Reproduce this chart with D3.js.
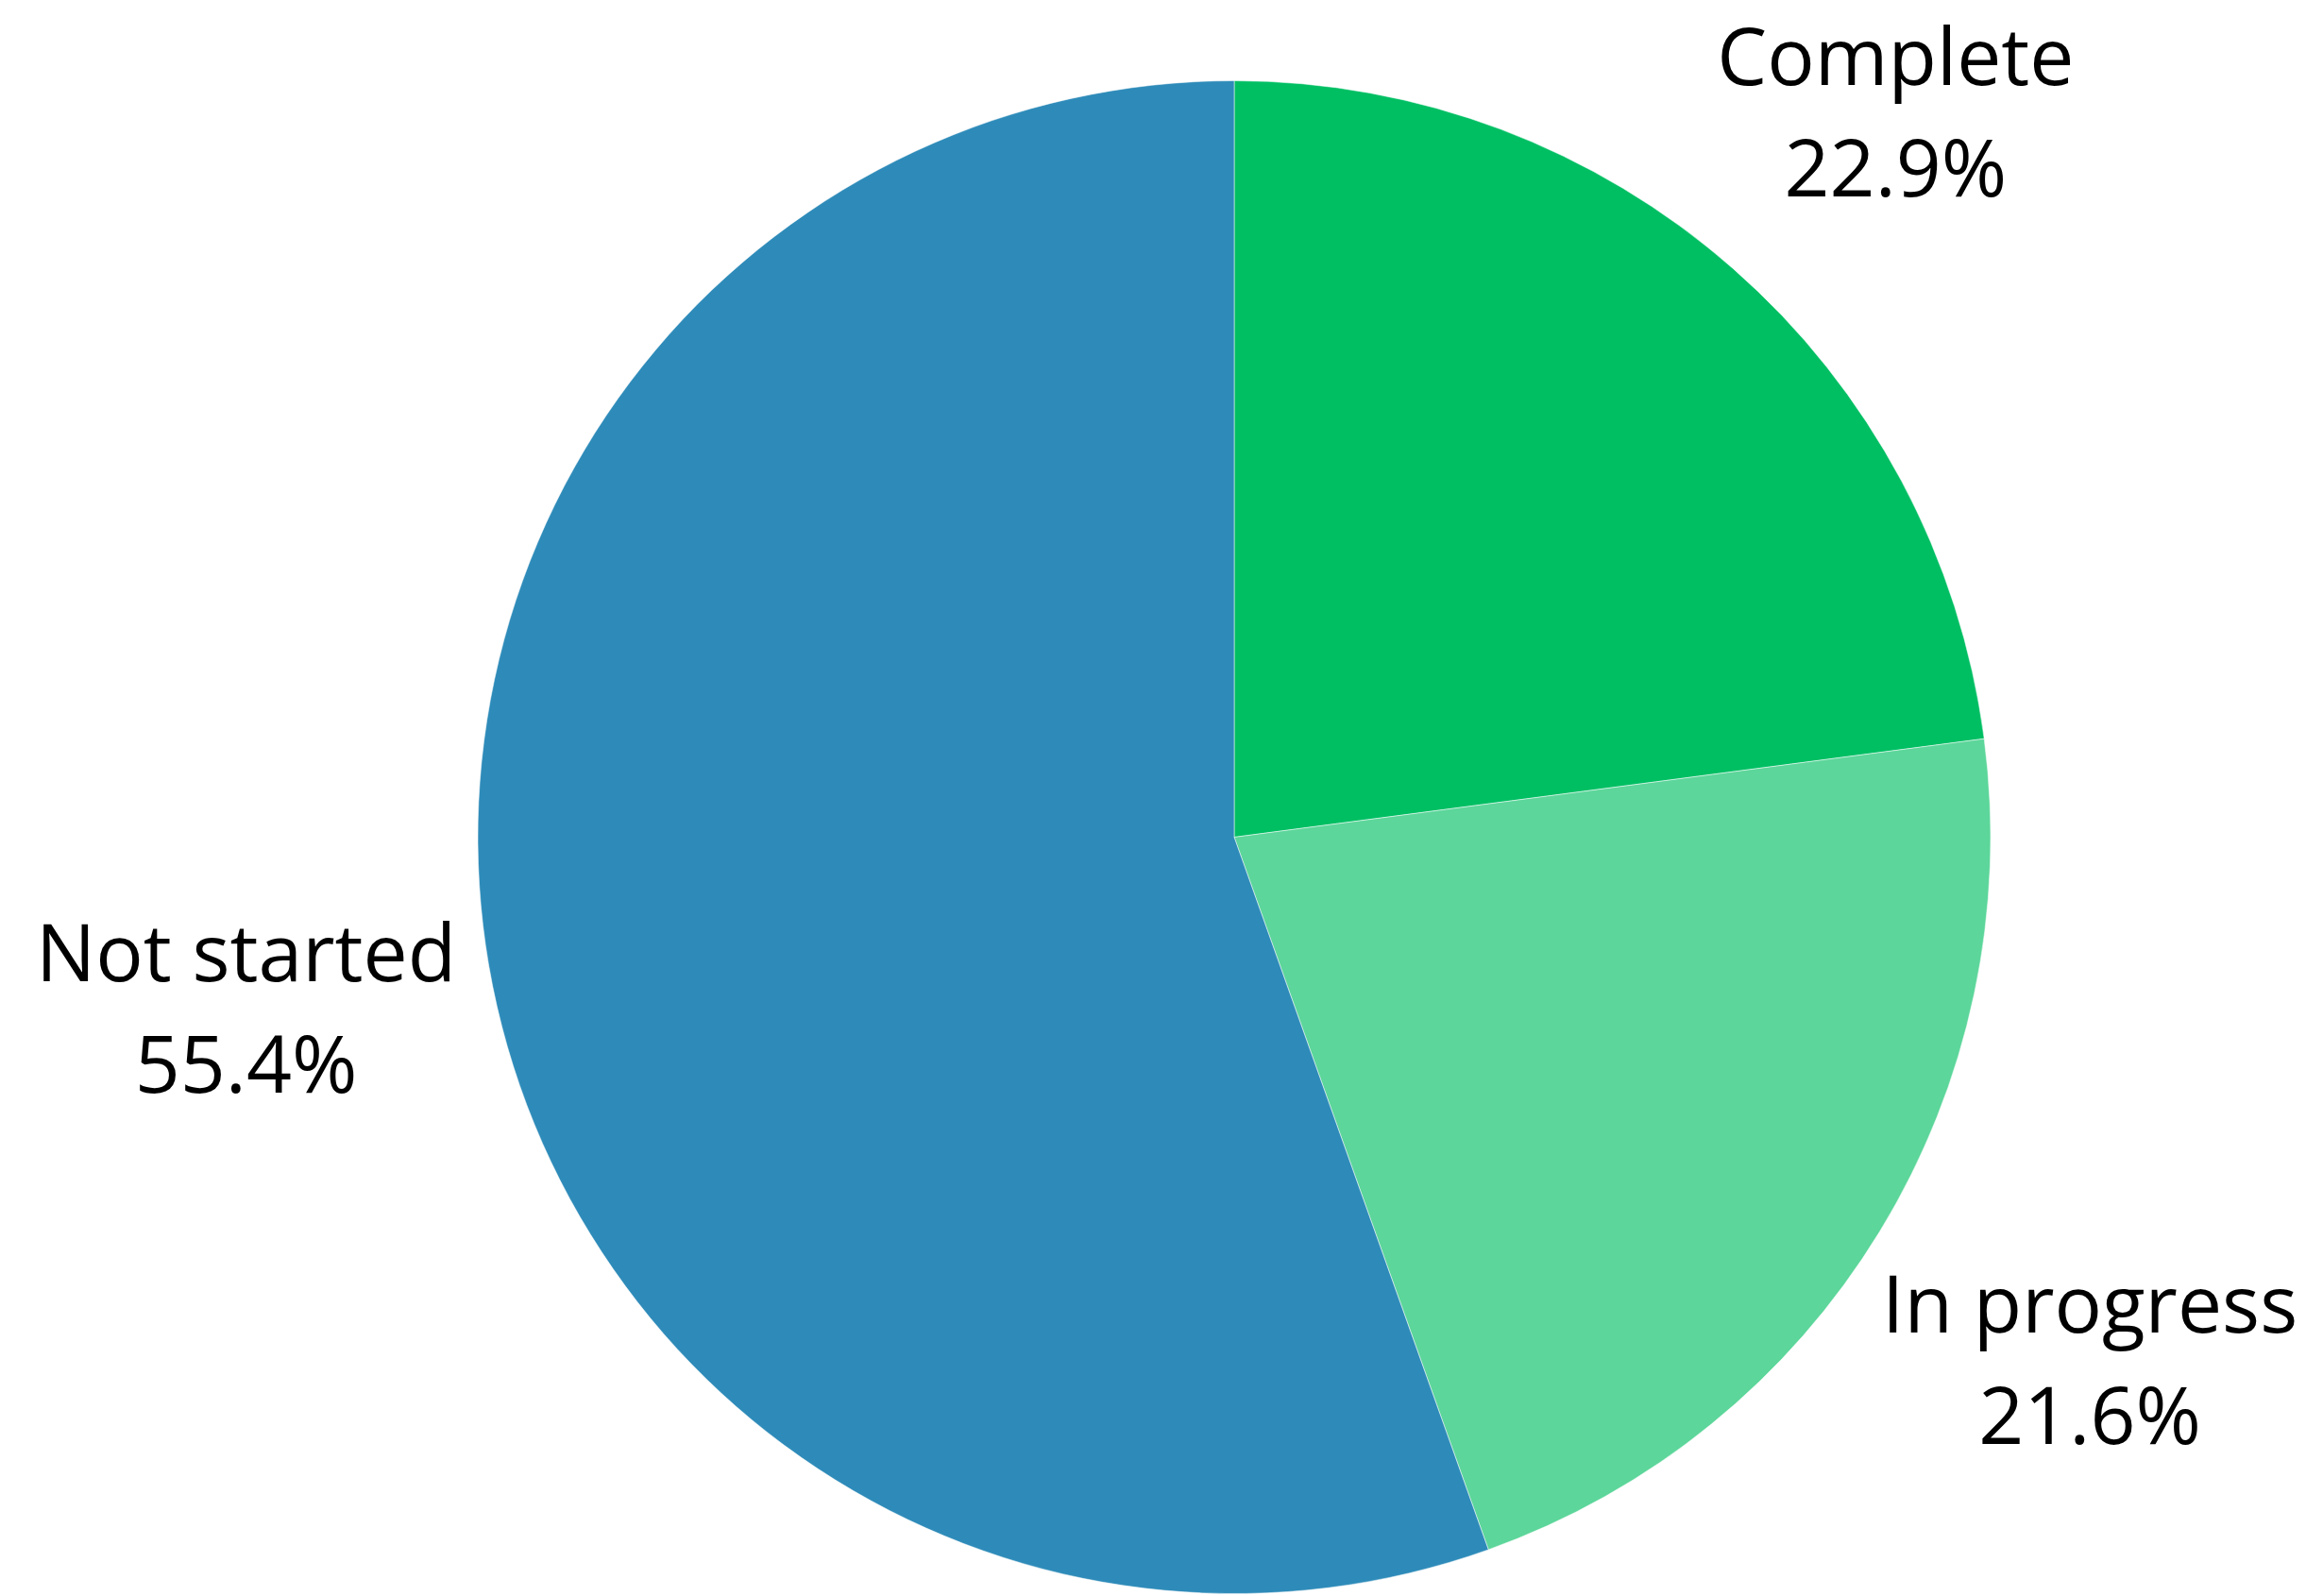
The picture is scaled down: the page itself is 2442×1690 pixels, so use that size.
<!DOCTYPE html>
<html>
<head>
<meta charset="utf-8">
<script src="https://cdn.jsdelivr.net/npm/d3@7"></script>
<style>
html,body{margin:0;padding:0;background:#fff;}
svg{display:block;}
</style>
</head>
<body>
<svg id="chart" width="2442" height="1690"></svg>
<script>
const categories = ["Complete", "In progress", "Not started"];
const values = [22.9, 21.6, 55.4];
const colors = ["#00BF63", "#5CD69A", "#2E8BB9"];

const W = 2442, H = 1690;
const cx = 1307, cy = 886.5, r = 801;
const labelR = 1062;
const fontSize = 84;
const lineGap = 118, capH = 60;
const ascent = Math.ceil(fontSize * 1.07);

const svg = d3.select("#chart");
const g = svg.append("g").attr("transform", `translate(${cx},${cy})`);

const data = categories.map((c, i) => ({name: c, value: values[i], color: colors[i]}));
const pie = d3.pie().sort(null).value(d => d.value);
const arcs = pie(data);
const arc = d3.arc().innerRadius(0).outerRadius(r);
const labelArc = d3.arc().innerRadius(labelR).outerRadius(labelR);

g.selectAll("path.slice").data(arcs).enter().append("path")
  .attr("class", "slice")
  .attr("d", arc)
  .attr("fill", d => d.data.color)
  .attr("stroke", "rgba(255,255,255,0.5)")
  .attr("stroke-width", 1);

const blockHalf = (lineGap + capH) / 2;
const fmt = d3.format(".1f");
const lbl = g.selectAll("g.label").data(arcs).enter().append("g")
  .attr("class", "label")
  .attr("transform", d => {
    let [x, y] = labelArc.centroid(d);
    // keep the whole first line (incl. ascent) inside the canvas
    const minY = ascent - cy + blockHalf - capH;
    if (y < minY) y = minY;
    return `translate(${x},${y})`;
  });

lbl.append("text")
  .attr("text-anchor", "middle")
  .attr("y", -blockHalf + capH)
  .style("font-family", "'Open Sans', sans-serif")
  .style("font-size", fontSize + "px")
  .attr("fill", "#000")
  .text(d => d.data.name);

lbl.append("text")
  .attr("text-anchor", "middle")
  .attr("y", -blockHalf + capH + lineGap)
  .style("font-family", "'Open Sans', sans-serif")
  .style("font-size", fontSize + "px")
  .attr("fill", "#000")
  .text(d => fmt(d.data.value) + "%");
</script>
</body>
</html>
